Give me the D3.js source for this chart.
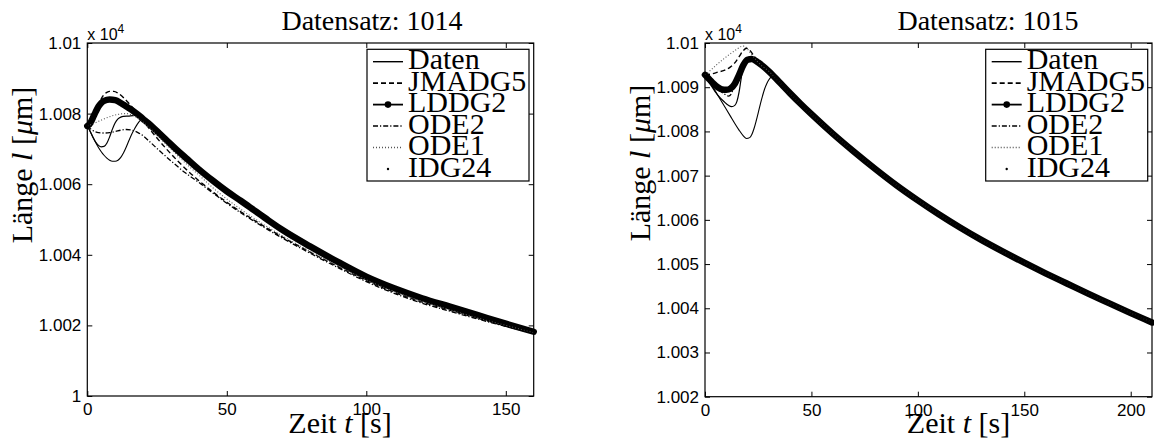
<!DOCTYPE html>
<html><head><meta charset="utf-8">
<script src="https://cdn.jsdelivr.net/npm/d3@7"></script>
<style>body{margin:0;background:#fff} svg{display:block}</style>
</head><body>
<svg id="c" width="1154" height="443"></svg>
<script>
// ---------- Data (values in µm, t in s) ----------
const seriesNames = ["Daten","JMADG5","LDDG2","ODE2","ODE1","IDG24"];

// Datensatz 1014
const l14_lddg2 = [[0,10076.5],[1,10077.2],[2,10078.8],[3,10080.5],[4,10082],[5,10083],[6,10083.6],[8,10084],[10,10083.8],[12,10083],[14,10082],[16,10081],[18,10079.8],[20,10078.5],[22,10077.2],[25,10075],[28,10072.8],[32,10069.8],[36,10067],[40,10064.2],[45,10061],[50,10058],[55,10055.3],[60,10052.5],[65,10049.7],[70,10047],[80,10042.3],[90,10037.9],[100,10033.8],[110,10030.5],[120,10027.7],[130,10025.3],[140,10022.9],[150,10020.5],[160,10018.2]];
const l14_daten = [[0,10076.5],[1,10075],[2,10073.3],[3,10071.9],[4,10071],[5,10070.6],[6,10070.7],[7,10071.6],[8,10073.4],[9,10075.6],[10,10077.4],[11,10078.5],[12,10079],[13,10079.2],[15,10079.3],[17,10079.5],[18,10079.8],[20,10078.5],[22,10077.2],[25,10075],[28,10072.8],[32,10069.8],[36,10067],[40,10064.2],[45,10061],[50,10058],[55,10055.3],[60,10052.5],[65,10049.7],[70,10047],[80,10042.3],[90,10037.9],[100,10033.8],[110,10030.5],[120,10027.7],[130,10025.3],[140,10022.9],[150,10020.5],[160,10018.2]];
const l14_jmadg5 = [[0,10076.5],[1,10076.3],[2,10077.6],[3,10080],[4,10082.4],[5,10084.2],[6,10085.4],[7,10086],[8,10086.3],[9.5,10086.3],[11,10085.8],[13,10084.5],[15,10082.8],[17,10081],[19,10079],[21,10077],[24,10074],[28,10070.3],[32,10066.9],[36,10063.8],[40,10061],[45,10057.8],[50,10054.9],[55,10052.2],[60,10049.7],[65,10047.3],[70,10045],[80,10040.7],[90,10036.6],[100,10032.7],[110,10029.4],[120,10026.6],[130,10024.3],[140,10022],[150,10019.9],[160,10017.9]];
const l14_ode2 = [[0,10076.5],[1,10075.8],[2,10075.2],[3,10074.8],[4,10074.6],[6,10074.5],[8,10074.6],[10,10074.9],[12,10075.3],[14,10075.5],[16,10075.3],[18,10074.7],[20,10073.7],[22,10072.3],[26,10069.4],[30,10066.6],[35,10063.3],[40,10060.5],[45,10057.5],[50,10054.6],[55,10051.9],[60,10049.4],[65,10047],[70,10044.7],[80,10040.4],[90,10036.3],[100,10032.4],[110,10029.1],[120,10026.3],[130,10024],[140,10021.8],[150,10019.7],[160,10017.8]];
const l14_ode1 = [[0,10076.5],[2,10077.1],[4,10077.8],[6,10078.5],[8,10079.1],[10,10079.6],[12,10079.9],[14,10080],[16,10079.6],[18,10078.8],[20,10077.6],[22,10076.2],[25,10073.9],[28,10071.5],[32,10068.4],[36,10065.4],[40,10062.6],[45,10059],[50,10055.8],[55,10052.9],[60,10050.2],[65,10047.7],[70,10045.3],[80,10040.9],[90,10036.8],[100,10032.9],[110,10029.6],[120,10026.8],[130,10024.4],[140,10022.1],[150,10020],[160,10018]];
const l14_idg24 = [[0,10076.5],[1,10075],[2,10073.4],[3,10071.8],[4,10070.4],[5,10069.2],[6,10068.2],[7,10067.4],[8,10066.8],[9,10066.5],[10,10066.5],[11,10066.8],[12,10067.6],[13,10068.9],[14,10070.6],[15,10072.5],[16,10074.3],[17,10075.8],[18,10077.1],[19,10078.1],[20,10078.5],[22,10077.2],[25,10075],[28,10072.8],[32,10069.8],[36,10067],[40,10064.2],[45,10061],[50,10058],[55,10055.3],[60,10052.5],[65,10049.7],[70,10047],[80,10042.3],[90,10037.9],[100,10033.8],[110,10030.5],[120,10027.7],[130,10025.3],[140,10022.9],[150,10020.5],[160,10018.2]];

// Datensatz 1015
const r15_lddg2 = [[0,10092.8],[2,10091.8],[4,10090.8],[6,10090],[8,10089.5],[10,10089.4],[12,10089.7],[14,10090.8],[16,10092.8],[18,10095],[20,10096.2],[22,10096.4],[25,10095.6],[30,10093.6],[35,10091.1],[40,10088.6],[45,10086.2],[50,10083.9],[60,10079.5],[70,10075.4],[80,10071.5],[90,10067.8],[100,10064.4],[110,10061.2],[120,10058.2],[130,10055.4],[140,10052.8],[150,10050.3],[160,10047.9],[170,10045.6],[180,10043.3],[190,10041.1],[200,10038.9],[210,10036.8]];
const r15_daten = [[0,10092.8],[3,10090.3],[6,10088.2],[9,10086.7],[11,10085.9],[12.5,10085.6],[14,10085.9],[15,10086.8],[16,10088.9],[17,10092],[18,10094.8],[19,10096],[20,10096.3],[22,10096.4],[25,10095.6],[30,10093.6],[35,10091.1],[40,10088.6],[45,10086.2],[50,10083.9],[60,10079.5],[70,10075.4],[80,10071.5],[90,10067.8],[100,10064.4],[110,10061.2],[120,10058.2],[130,10055.4],[140,10052.8],[150,10050.3],[160,10047.9],[170,10045.6],[180,10043.3],[190,10041.1],[200,10038.9],[210,10036.8]];
const r15_jmadg5 = [[0,10092.8],[3,10093],[6,10093.4],[9,10093.8],[12,10094.6],[14,10095.5],[16,10096.9],[18,10098.3],[19.5,10098.8],[21,10098.4],[22.5,10097.4],[24,10096.4],[25,10095.6],[30,10093.6],[35,10091.1],[40,10088.6],[45,10086.2],[50,10083.9],[60,10079.5],[70,10075.4],[80,10071.5],[90,10067.8],[100,10064.4],[110,10061.2],[120,10058.2],[130,10055.4],[140,10052.8],[150,10050.3],[160,10047.9],[170,10045.6],[180,10043.3],[190,10041.1],[200,10038.9],[210,10036.8]];
const r15_ode2 = [[0,10092.8],[3,10091],[6,10089.6],[9,10088.5],[11,10088],[12.5,10088.6],[13.5,10090.3],[15,10092.4],[16.5,10093.6],[18,10095],[20,10096.2],[22,10096.4],[25,10095.6],[30,10093.6],[35,10091.1],[40,10088.6],[45,10086.2],[50,10083.9],[60,10079.5],[70,10075.4],[80,10071.5],[90,10067.8],[100,10064.4],[110,10061.2],[120,10058.2],[130,10055.4],[140,10052.8],[150,10050.3],[160,10047.9],[170,10045.6],[180,10043.3],[190,10041.1],[200,10038.9],[210,10036.8]];
const r15_ode1 = [[0,10092.8],[3,10094],[6,10095.3],[9,10096.5],[12,10097.6],[15,10098.6],[17,10099.2],[18.5,10099.3],[20,10098.6],[22,10097.3],[24,10096.2],[25,10095.6],[30,10093.6],[35,10091.1],[40,10088.6],[45,10086.2],[50,10083.9],[60,10079.5],[70,10075.4],[80,10071.5],[90,10067.8],[100,10064.4],[110,10061.2],[120,10058.2],[130,10055.4],[140,10052.8],[150,10050.3],[160,10047.9],[170,10045.6],[180,10043.3],[190,10041.1],[200,10038.9],[210,10036.8]];
const r15_idg24 = [[0,10092.8],[2,10091.3],[4,10089.8],[6,10088.2],[8,10086.6],[10,10085],[12,10083.4],[14,10081.8],[16,10080.3],[18,10079],[19.5,10078.4],[21,10078.6],[22,10079.3],[23,10080.6],[24,10082.3],[25,10084.2],[26,10086.2],[27,10088],[28,10089.6],[29,10090.8],[30,10091.7],[32,10092.5],[35,10091.1],[40,10088.6],[45,10086.2],[50,10083.9],[60,10079.5],[70,10075.4],[80,10071.5],[90,10067.8],[100,10064.4],[110,10061.2],[120,10058.2],[130,10055.4],[140,10052.8],[150,10050.3],[160,10047.9],[170,10045.6],[180,10043.3],[190,10041.1],[200,10038.9],[210,10036.8]];

// Ticks
const l_xTicks = [0,50,100,150];
const l_yTicks = [10000,10020,10040,10060,10080,10100];
const l_yLabels = ["1","1.002","1.004","1.006","1.008","1.01"];
const r_xTicks = [0,50,100,150,200];
const r_yTicks = [10020,10030,10040,10050,10060,10070,10080,10090,10100];
const r_yLabels = ["1.002","1.003","1.004","1.005","1.006","1.007","1.008","1.009","1.01"];

// ---------- Styles ----------
const styles = {
  Daten:  {w:1.2, dash:null, color:"#000"},
  JMADG5: {w:1.4, dash:"5,3", color:"#000"},
  LDDG2:  {w:6.5, dash:null, color:"#000"},
  ODE2:   {w:1.3, dash:"5,2,1.2,2", color:"#000"},
  ODE1:   {w:1.1, dash:"1,2", color:"#555"},
  IDG24:  {w:1.1, dash:null, color:"#000"}
};
const SERIF = "'Liberation Serif','Times New Roman',serif";
const SANS = "'Liberation Sans',Arial,sans-serif";

const svg = d3.select("#c");

function panel(cfg) {
  const g = svg.append("g");
  const x = d3.scaleLinear().domain(cfg.xDomain).range([cfg.left, cfg.right]);
  const y = d3.scaleLinear().domain(cfg.yDomain).range([cfg.bottom, cfg.top]);

  // lines
  const line = d3.line().x(d => x(d[0])).y(d => y(d[1])).curve(d3.curveMonotoneX);
  seriesNames.forEach(name => {
    const st = styles[name];
    const p = g.append("path").datum(cfg.data[name]).attr("d", line)
      .attr("fill","none").attr("stroke", st.color).attr("stroke-width", st.w)
      .attr("stroke-linejoin","round").attr("stroke-linecap", name==="LDDG2" ? "round" : "butt");
    if (st.dash) p.attr("stroke-dasharray", st.dash);
  });

  // axes (ticks inward)
  const ax = g.append("g").attr("font-family", SANS);
  const bottom = ax.append("g").attr("transform",`translate(0,${cfg.bottom})`)
    .call(d3.axisBottom(x).tickValues(cfg.xTicks).tickSize(-5).tickPadding(7).tickFormat(d3.format("d")));
  const top = ax.append("g").attr("transform",`translate(0,${cfg.top})`)
    .call(d3.axisTop(x).tickValues(cfg.xTicks).tickSize(-5).tickFormat(""));
  const left = ax.append("g").attr("transform",`translate(${cfg.left},0)`)
    .call(d3.axisLeft(y).tickValues(cfg.yTicks).tickSize(-5).tickPadding(6).tickFormat((d,i) => cfg.yLabels[i]));
  const right = ax.append("g").attr("transform",`translate(${cfg.right},0)`)
    .call(d3.axisRight(y).tickValues(cfg.yTicks).tickSize(-5).tickFormat(""));
  [bottom, top, left, right].forEach(a => {
    a.select(".domain").remove();
    a.selectAll("line").attr("stroke","#000").attr("stroke-width",1);
    a.selectAll("text").attr("font-size",17).attr("fill","#000").attr("font-family",SANS);
  });
  g.append("rect").attr("x",cfg.left).attr("y",cfg.top)
    .attr("width",cfg.right-cfg.left).attr("height",cfg.bottom-cfg.top)
    .attr("fill","none").attr("stroke","#000").attr("stroke-width",1.2);

  // x 10^4
  const e = g.append("text").attr("x",cfg.left).attr("y",cfg.top-3).attr("font-family",SANS).attr("font-size",16);
  e.append("tspan").text("x 10");
  e.append("tspan").attr("font-size",12).attr("dy",-7).text("4");

  // title
  g.append("text").attr("x",cfg.titleX).attr("y",30).attr("text-anchor","middle")
    .attr("font-family",SERIF).attr("font-size",28).text(cfg.title);

  // x label
  const xl = g.append("text").attr("x",cfg.xLabelX).attr("y",433).attr("text-anchor","middle")
    .attr("font-family",SERIF).attr("font-size",30);
  xl.append("tspan").text("Zeit ");
  xl.append("tspan").attr("font-style","italic").text("t");
  xl.append("tspan").text(" [s]");

  // y label
  const yl = g.append("text").attr("transform",`translate(${cfg.yLabelX},${cfg.yLabelY}) rotate(-90)`)
    .attr("text-anchor","middle").attr("font-family",SERIF).attr("font-size",30);
  yl.append("tspan").text("Länge ");
  yl.append("tspan").attr("font-style","italic").text("l");
  yl.append("tspan").text(" [");
  yl.append("tspan").attr("font-style","italic").text("μ");
  yl.append("tspan").text("m]");

  // legend
  const lg = g.append("g").attr("transform",`translate(${cfg.legendX},49.3)`);
  lg.append("rect").attr("width",162).attr("height",131.7).attr("fill","#fff").attr("stroke","#000").attr("stroke-width",1.2);
  seriesNames.forEach((name,i) => {
    const cy = 12.4 + i*21.45;
    const st = styles[name];
    if (name === "IDG24") {
      lg.append("circle").attr("cx",21).attr("cy",cy).attr("r",1.2).attr("fill","#000");
    } else {
      const l = lg.append("line").attr("x1",6).attr("x2",36).attr("y1",cy).attr("y2",cy)
        .attr("stroke",st.color).attr("stroke-width", name==="LDDG2" ? 1.8 : st.w+0.2);
      if (st.dash) l.attr("stroke-dasharray", st.dash);
      if (name === "LDDG2") lg.append("circle").attr("cx",21).attr("cy",cy).attr("r",3.3).attr("fill","#000");
    }
    lg.append("text").attr("x",41).attr("y",cy+7.6).attr("font-family",SERIF).attr("font-size",30).text(name);
  });
}

panel({
  left:87.3, right:533.7, top:43, bottom:396,
  xDomain:[0,160], yDomain:[10000,10100],
  xTicks:l_xTicks, yTicks:l_yTicks, yLabels:l_yLabels,
  title:"Datensatz: 1014", titleX:372, xLabelX:340, yLabelX:32, yLabelY:165, legendX:367,
  data:{Daten:l14_daten, JMADG5:l14_jmadg5, LDDG2:l14_lddg2, ODE2:l14_ode2, ODE1:l14_ode1, IDG24:l14_idg24}
});
panel({
  left:705, right:1152, top:43, bottom:396.7,
  xDomain:[0,210], yDomain:[10020,10100],
  xTicks:r_xTicks, yTicks:r_yTicks, yLabels:r_yLabels,
  title:"Datensatz: 1015", titleX:988, xLabelX:958.5, yLabelX:650, yLabelY:163, legendX:985.7,
  data:{Daten:r15_daten, JMADG5:r15_jmadg5, LDDG2:r15_lddg2, ODE2:r15_ode2, ODE1:r15_ode1, IDG24:r15_idg24}
});
</script>
</body></html>
